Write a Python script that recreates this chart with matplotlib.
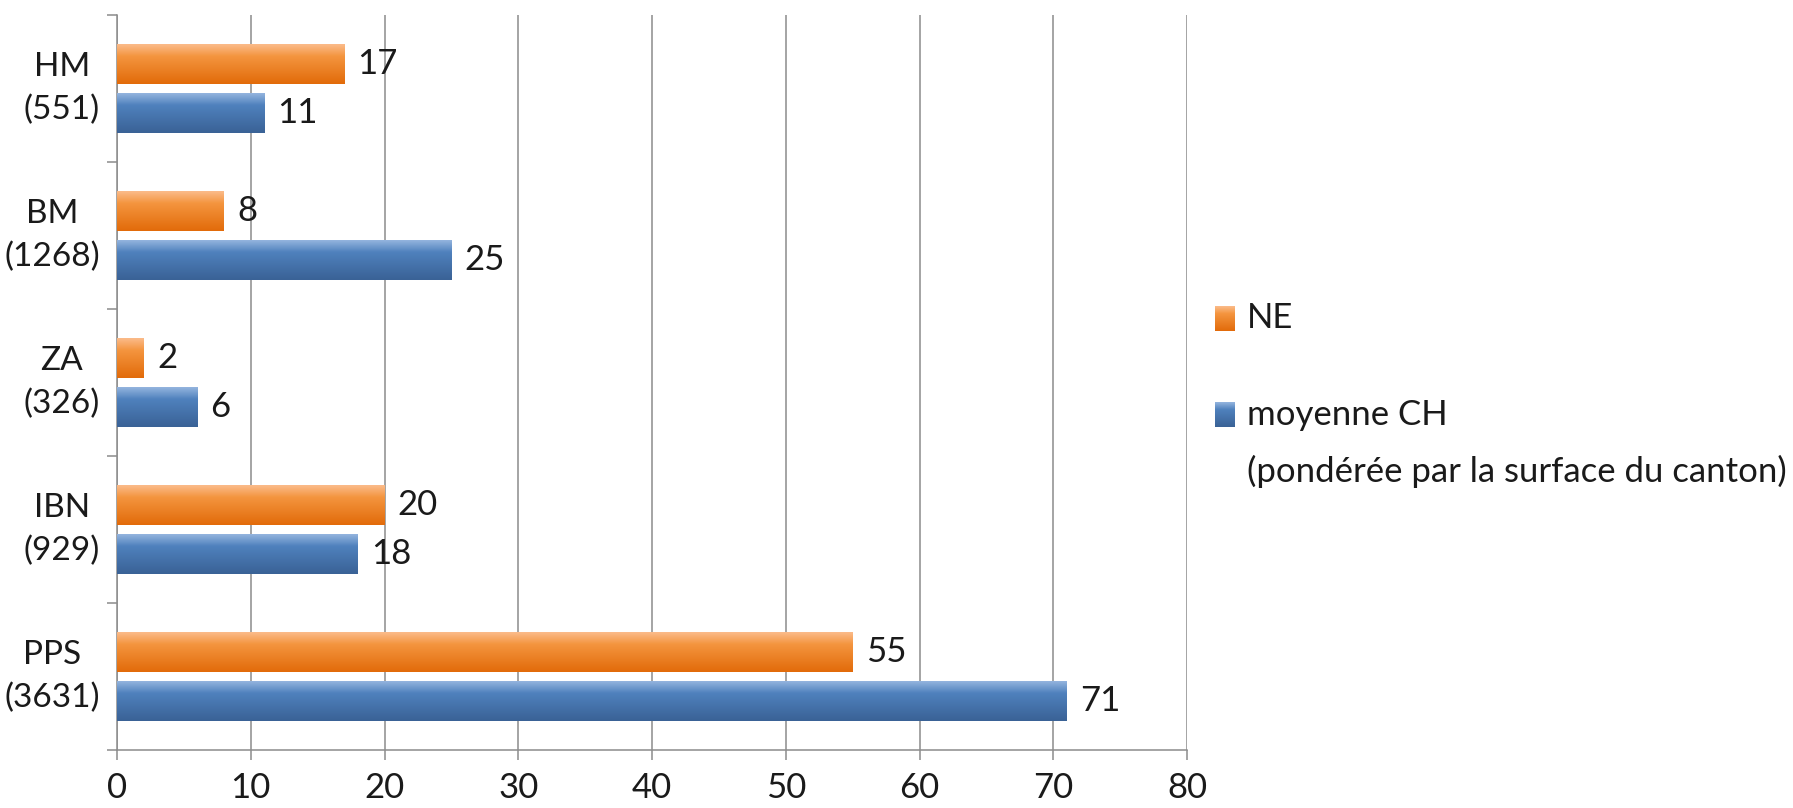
import numpy as np
import matplotlib
matplotlib.use("Agg")
import matplotlib.pyplot as plt
from matplotlib.colors import LinearSegmentedColormap
import matplotlib.transforms as mtransforms

# data
categories = ["HM\n(551)", "BM\n(1268)", "ZA\n(326)", "IBN\n(929)", "PPS\n(3631)"]
ne_values = [17, 8, 2, 20, 55]
ch_values = [11, 25, 6, 18, 71]
legend_lines = ["NE", "moyenne CH", "(pondérée par la surface du canton)"]
x_ticks = [0, 10, 20, 30, 40, 50, 60, 70, 80]

plt.rcParams['font.family'] = ['Lato', 'DejaVu Sans']
fs = 25
txt = "#1a1a1a"
gridc = "#8c8c8c"

W, H = 1793, 808
fig = plt.figure(figsize=(W / 100, H / 100), dpi=100)
ax = fig.add_axes([117 / W, 1 - 750 / H, (1187 - 117) / W, (750 - 15) / H])

orange_cmap = LinearSegmentedColormap.from_list(
    "or", [(0, "#fbbb8a"), (0.3, "#f4953f"), (1, "#e26b0a")])
blue_cmap = LinearSegmentedColormap.from_list(
    "bl", [(0, "#93b4de"), (0.3, "#4f81bd"), (1, "#3a6296")])
grad = np.linspace(0, 1, 64).reshape(-1, 1)

y = np.arange(len(categories))
h = 0.272
off = 0.168

ax.set_axisbelow(True)
ax.grid(axis="x", color=gridc, linewidth=1.1)

bars_ne = ax.barh(y - off, ne_values, height=h, color="#f4953f", zorder=2)
bars_ch = ax.barh(y + off, ch_values, height=h, color="#4f81bd", zorder=2)

for bars, cmap in [(bars_ne, orange_cmap), (bars_ch, blue_cmap)]:
    for b in bars:
        x0, y0, w, hh = b.get_x(), b.get_y(), b.get_width(), b.get_height()
        im = ax.imshow(grad, cmap=cmap, aspect="auto", zorder=3,
                       extent=(x0, x0 + w, y0 + hh, y0), interpolation="bicubic")
        im.set_clip_path(b)

for bars, vals in [(bars_ne, ne_values), (bars_ch, ch_values)]:
    for b, v in zip(bars, vals):
        ax.annotate(str(v), (b.get_width(), b.get_y() + b.get_height() / 2),
                    xytext=(9.5, 0), textcoords="offset points",
                    va="center", ha="left", fontsize=fs, color=txt)

ax.set_xlim(0, 80)
ax.set_ylim(len(categories) - 0.5, -0.5)
ax.set_xticks(x_ticks)
ax.set_xticklabels([str(t) for t in x_ticks], fontsize=fs, color=txt)

# category boundaries as ticks, category names as texts
ax.set_yticks(np.arange(-0.5, len(categories), 1.0))
ax.set_yticklabels([])
ax.tick_params(axis="y", length=7, color=gridc, width=1.1)
ax.tick_params(axis="x", length=7, color=gridc, width=1.1, pad=9)

lab_tr = mtransforms.blended_transform_factory(ax.transAxes, ax.transData) + \
    mtransforms.ScaledTranslation(-17 / 100, 0, fig.dpi_scale_trans)
for yi, cat in zip(y, categories):
    ax.text(0, yi, cat, transform=lab_tr, ha="right", va="center",
            multialignment="center", linespacing=1.5, fontsize=24, color=txt)

for s in ["top", "right"]:
    ax.spines[s].set_visible(False)
for s in ["left", "bottom"]:
    ax.spines[s].set_color(gridc)
    ax.spines[s].set_linewidth(1.1)

# legend drawn by hand
def legend_box(px, py, cmap):
    lax = fig.add_axes([px / W, 1 - (py + 25) / H, 20 / W, 25 / H])
    lax.imshow(grad, cmap=cmap, aspect="auto")
    lax.set_axis_off()

legend_box(1215, 306, orange_cmap)
legend_box(1215, 402, blue_cmap)
fig.text(1247 / W, 1 - 318 / H, legend_lines[0], fontsize=fs, va="center", color=txt)
fig.text(1247 / W, 1 - 415 / H, legend_lines[1], fontsize=fs, va="center", color=txt)
fig.text(1247 / W, 1 - 471 / H, legend_lines[2], fontsize=fs, va="center", color=txt)

fig.savefig("out.png", dpi=100, facecolor="white")
